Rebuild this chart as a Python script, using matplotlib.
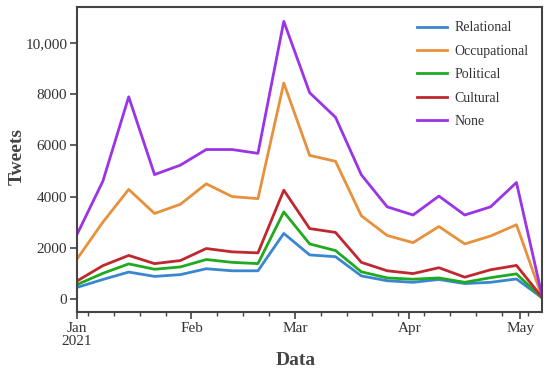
import numpy as np
import pandas as pd
import matplotlib
matplotlib.use("Agg")
import matplotlib.pyplot as plt
import matplotlib.dates as mdates

# weekly tweet counts
weeks = pd.date_range("2021-01-01", periods=19, freq="7D")
relational = [450, 760, 1050, 880, 950, 1180, 1100, 1100, 2560, 1720, 1650,
              900, 710, 650, 760, 600, 650, 780, 40]
occupational = [1560, 3000, 4280, 3340, 3700, 4500, 4000, 3920, 8440, 5610, 5380,
                3250, 2480, 2200, 2830, 2150, 2460, 2900, 60]
political = [560, 1000, 1370, 1160, 1250, 1540, 1430, 1380, 3400, 2150, 1890,
             1060, 820, 770, 820, 650, 830, 980, 30]
cultural = [700, 1300, 1700, 1380, 1500, 1970, 1840, 1800, 4250, 2750, 2600,
            1430, 1100, 990, 1220, 850, 1140, 1310, 50]
none = [2520, 4600, 7900, 4860, 5230, 5840, 5840, 5690, 10850, 8060, 7100,
        4850, 3600, 3280, 4020, 3280, 3600, 4550, 80]

series = [("Relational", relational, "#3a86d0"),
          ("Occupational", occupational, "#e8913c"),
          ("Political", political, "#1faa1f"),
          ("Cultural", cultural, "#c0282f"),
          ("None", none, "#9a34e6")]

plt.rcParams["font.family"] = ["Liberation Serif", "DejaVu Serif"]

fig = plt.figure(figsize=(5.5, 3.75), dpi=100)
ax = fig.add_axes([0.14, 0.168, 0.846, 0.812])

for name, vals, col in series:
    ax.plot(weeks, vals, color=col, lw=2, label=name)

ax.set_xlim(weeks[0], weeks[-1])
ax.margins(y=0.05)

ax.xaxis.set_minor_locator(mdates.WeekdayLocator(byweekday=mdates.MO))
ax.set_xticks(pd.date_range("2021-01-01", "2021-05-01", freq="MS"))
ax.set_xticklabels(["Jan\n2021", "Feb", "Mar", "Apr", "May"], linespacing=1.05)

yt = [0, 2000, 4000, 6000, 8000, 10000]
ax.set_yticks(yt)
ax.set_yticklabels(["0", "2000", "4000", "6000", "8000", "10,000"])

ax.tick_params(axis="both", which="major", labelsize=11, labelcolor="#333333",
               color="#444444", width=1.2, length=5, pad=2)
ax.tick_params(axis="x", which="minor", color="#444444", width=1, length=3)
for sp in ax.spines.values():
    sp.set_color("#444444")
    sp.set_linewidth(1.5)

ax.set_xlabel("Data", fontsize=14, fontweight="bold", color="#444444")
ax.set_ylabel("Tweets", fontsize=14, fontweight="bold", color="#444444")
ax.xaxis.set_label_coords(0.47, -0.158)
ax.yaxis.set_label_coords(-0.129, 0.51)
ax.xaxis.label.set_va("center")
ax.yaxis.label.set_va("center")

leg = ax.legend(loc="upper right", frameon=False, fontsize=10, handlelength=2.2,
                handletextpad=0.5, labelspacing=0.75, borderaxespad=0.6)
for t in leg.get_texts():
    t.set_color("#333333")

fig.savefig("out.png", dpi=100)
